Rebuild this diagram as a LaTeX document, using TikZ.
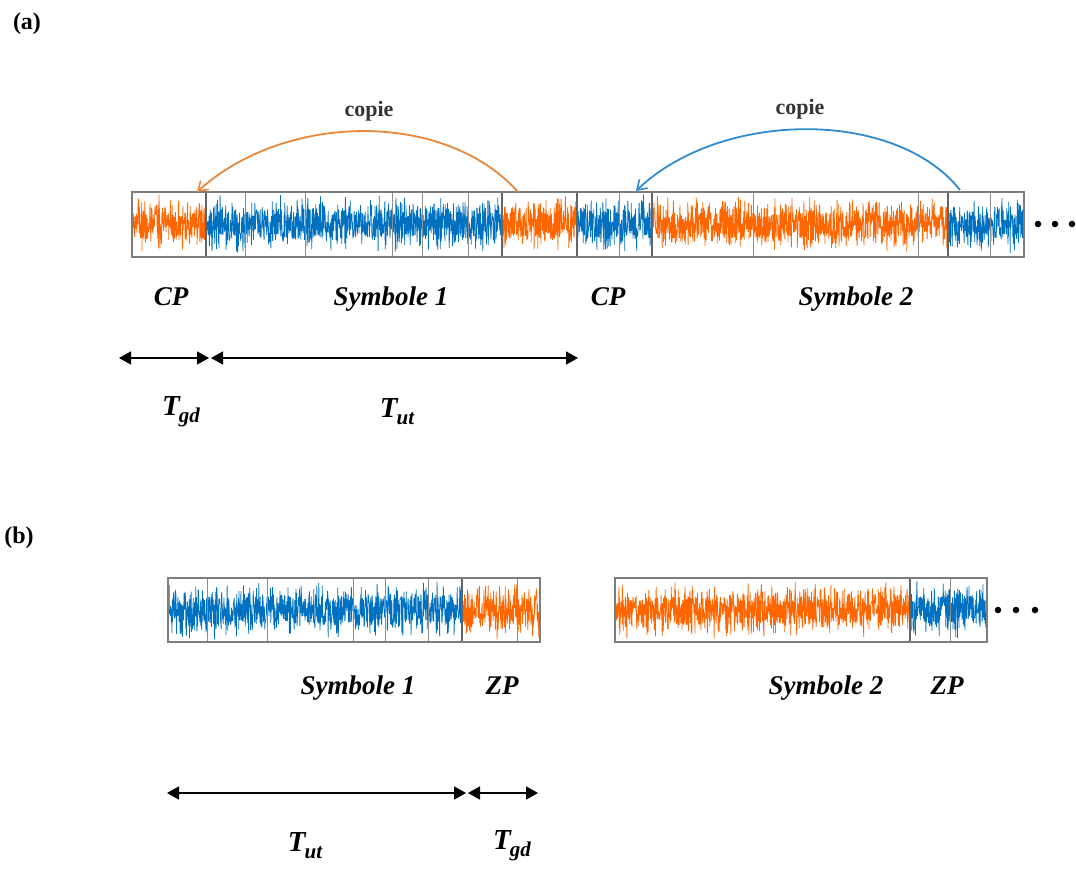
\documentclass[tikz,border=0pt]{standalone}
\usepackage{fontspec}
\setmainfont{Liberation Serif}
\usetikzlibrary{arrows.meta}

\definecolor{wblue}{RGB}{0,112,192}
\definecolor{worange}{RGB}{255,102,0}
\definecolor{arcorange}{RGB}{232,135,58}
\definecolor{arcblue}{RGB}{46,139,208}
\definecolor{frame}{RGB}{125,125,125}
\definecolor{grid}{RGB}{140,140,140}

\tikzset{
  lbl/.style={font=\fontsize{27}{30}\selectfont\bfseries\itshape, inner sep=0pt},
  cpy/.style={font=\fontsize{22}{24}\selectfont\bfseries, text=black!80, inner sep=0pt},
  panel/.style={font=\fontsize{24}{26}\selectfont\bfseries, inner sep=0pt},
  tlbl/.style={font=\fontsize{29}{32}\selectfont\bfseries\itshape, inner sep=0pt},
  boxframe/.style={draw=frame, line width=1.6pt},
  gridline/.style={draw=grid, line width=0.9pt},
  segline/.style={draw=frame!80!black, line width=1.4pt},
  copyarrow/.style={line width=1.8pt, -{Straight Barb[length=9pt,width=12pt,line width=1.6pt]}},
  dimarrow/.style={line width=1.6pt, {Triangle[length=12pt,width=13pt]}-{Triangle[length=12pt,width=13pt]}},
  dot/.style={circle, fill=black, inner sep=0pt, minimum size=6.5pt}
}

% subscripted time symbol
\newcommand\tsym[1]{T\kern-1pt\raisebox{-7pt}{\fontsize{21}{22}\selectfont #1}}

% noisy signal between x=#2 and x=#3 centred on y=#4, #5 samples
\newcommand\noisetrace[5]{%
  \draw[#1, line width=0.75pt, line join=bevel] plot[domain=#2:#3, samples=#5]
    (\x, {#4 + (2*rnd-1)*(13 + 17*rnd^1.6)});
}

\begin{document}
\begin{tikzpicture}[x=1pt, y=-1pt]
\useasboundingbox (0,0) rectangle (1076,870);
\pgfmathsetseed{11}

% ---------- (a) cyclic prefix ----------
\node[panel] (pa) at (27,24) {(a)};

\noisetrace{worange}{133}{206}{224}{260}
\noisetrace{wblue}{206}{502}{224}{1050}
\noisetrace{worange}{502}{577}{224}{265}
\noisetrace{wblue}{577}{652}{224}{265}
\noisetrace{worange}{652}{948}{224}{1050}
\noisetrace{wblue}{948}{1023}{224}{265}

\foreach \gx in {245,305,392,422,468,619,753,918,990}
  \draw[gridline] (\gx,192) -- (\gx,257);
\foreach \gx in {206,502,577,652,948}
  \draw[segline] (\gx,192) -- (\gx,257);
\draw[boxframe] (132,192) rectangle (1024,257);

\coordinate (cp1top) at (197,192);
\coordinate (s1end) at (518,192);
\coordinate (cp2top) at (636,191);
\coordinate (s2end) at (960,190);

\draw[copyarrow, arcorange] (s1end) .. controls (445,110) and (285,112) .. (cp1top);
\draw[copyarrow, arcblue] (s2end) .. controls (895,108) and (720,110) .. (cp2top);
\node[cpy] (copie1) at (369,111) {copie};
\node[cpy] (copie2) at (800,109) {copie};

\node[dot] (da1) at (1038,224) {};
\node[dot] (da2) at (1055,224) {};
\node[dot] (da3) at (1072,224) {};

\node[lbl] (cpa) at (171,297) {CP};
\node[lbl] (sym1a) at (391,299) {Symbole 1};
\node[lbl] (cpb) at (608,297) {CP};
\node[lbl] (sym2a) at (856,299) {Symbole 2};

\coordinate (ga) at (119,358);
\coordinate (gb) at (209,358);
\coordinate (ua) at (211,358);
\coordinate (ub) at (578,358);
\draw[dimarrow] (ga) -- (gb);
\draw[dimarrow] (ua) -- (ub);
\node[tlbl] (tgda) at (181,412) {\tsym{gd}};
\node[tlbl] (tuta) at (397,412) {\tsym{ut}};

% ---------- (b) zero padding ----------
\node[panel] (pb) at (19,538) {(b)};

\noisetrace{wblue}{168}{462}{610}{1040}
\noisetrace{worange}{462}{540}{610}{275}
\noisetrace{worange}{615}{910}{610}{1045}
\noisetrace{wblue}{910}{987}{610}{270}

\foreach \gx in {207,267,353,385,428,517,950}
  \draw[gridline] (\gx,578) -- (\gx,642);
\foreach \gx in {462,910}
  \draw[segline] (\gx,578) -- (\gx,642);
\draw[boxframe] (168,578) rectangle (540,642);
\draw[boxframe] (615,578) rectangle (987,642);

\node[dot] (db1) at (998,610) {};
\node[dot] (db2) at (1016,610) {};
\node[dot] (db3) at (1035,610) {};

\node[lbl] (sym1b) at (358,688) {Symbole 1};
\node[lbl] (zpa) at (502,686) {ZP};
\node[lbl] (sym2b) at (826,688) {Symbole 2};
\node[lbl] (zpb) at (947,686) {ZP};

\coordinate (ub1) at (167,793);
\coordinate (ub2) at (466,793);
\coordinate (gb1) at (468,793);
\coordinate (gb2) at (538,793);
\draw[dimarrow] (ub1) -- (ub2);
\draw[dimarrow] (gb1) -- (gb2);
\node[tlbl] (tutb) at (305,846) {\tsym{ut}};
\node[tlbl] (tgdb) at (512,846) {\tsym{gd}};
\end{tikzpicture}
\end{document}
